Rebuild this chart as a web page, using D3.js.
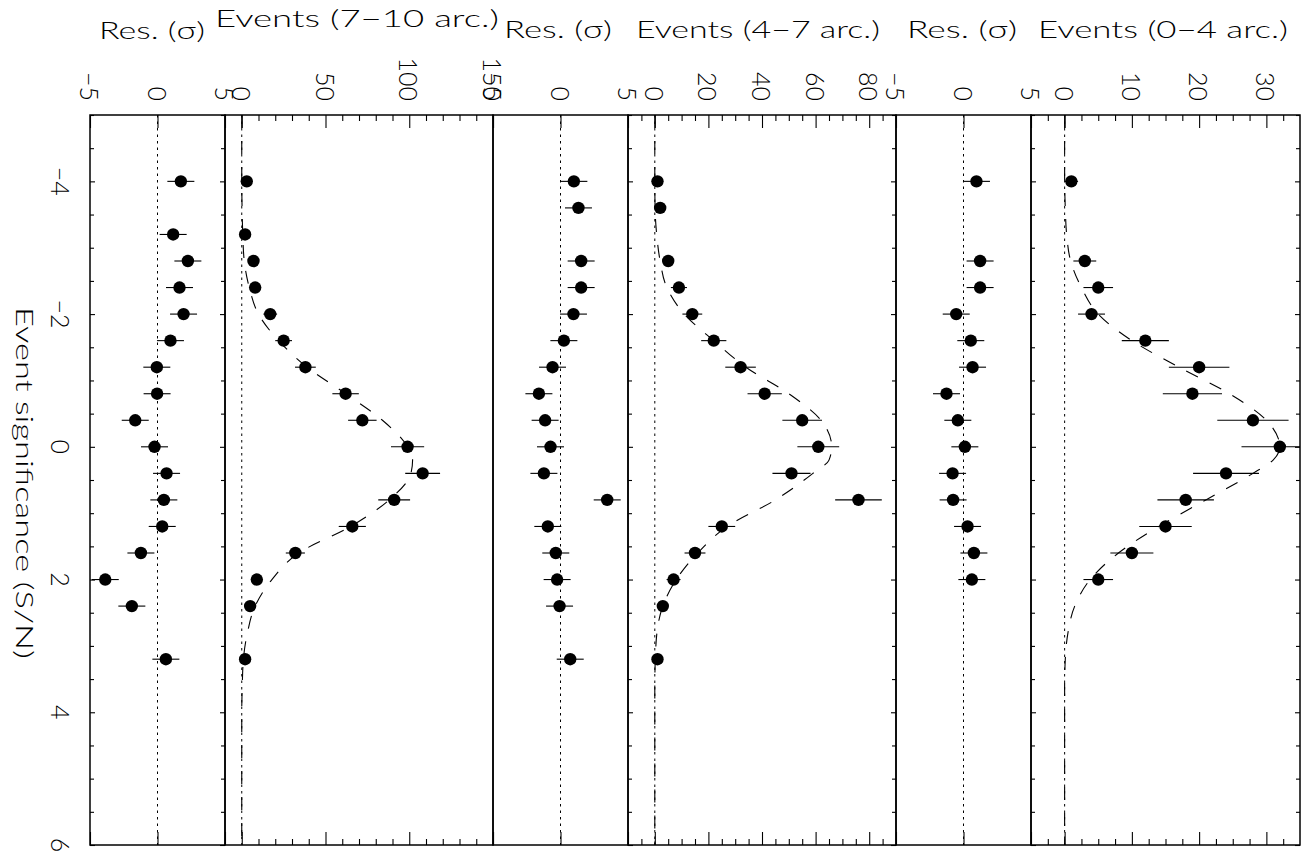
<!DOCTYPE html>
<html><head><meta charset="utf-8">
<script src="https://cdn.jsdelivr.net/npm/d3@7"></script>
<style>
body{margin:0;background:#fff}
text{font-family:Lato,"DejaVu Sans",sans-serif;font-weight:300;fill:#000}
</style>
</head><body>
<svg id="c" width="1308" height="856"></svg>
<script>
// ---------- data ----------
const sigTickValues = [-4, -2, 0, 2, 4, 6];
const sigTickLabels = ["\u22124", "\u22122", "0", "2", "4", "6"];
const sigMinorTicks = [-5, -4.5, -3.5, -3, -2.5, -1.5, -1, -0.5, 0.5, 1, 1.5, 2.5, 3, 3.5, 4.5, 5, 5.5];

const resTickValues = [-5, 0, 5];
const resTickLabels = ["\u22125", "0", "5"];

const ev7TickValues = [0, 50, 100, 150];
const ev7TickLabels = ["0", "50", "100", "150"];
const ev7MinorTicks = [10, 20, 30, 40, 60, 70, 80, 90, 110, 120, 130, 140];

const ev4TickValues = [0, 20, 40, 60, 80];
const ev4TickLabels = ["0", "20", "40", "60", "80"];
const ev4MinorTicks = [-5, 5, 10, 15, 25, 30, 35, 45, 50, 55, 65, 70, 75, 85];

const ev0TickValues = [0, 10, 20, 30];
const ev0TickLabels = ["0", "10", "20", "30"];
const ev0MinorTicks = [-2.5, 2.5, 5, 7.5, 12.5, 15, 17.5, 22.5, 25, 27.5, 32.5];

// 7-10 arcsec
const sig7 = [-4.0, -3.2, -2.8, -2.4, -2.0, -1.6, -1.2, -0.8, -0.4, 0.0, 0.4, 0.8, 1.2, 1.6, 2.0, 2.4, 3.2];
const events7 = [3, 2, 7, 8, 17, 25, 38, 62, 72, 99, 108, 91, 66, 32, 9, 5, 2];
const evErr7 = [1.7, 1.4, 2.6, 2.8, 4.1, 5.0, 6.2, 7.9, 8.5, 9.9, 10.4, 9.5, 8.1, 5.7, 3.0, 2.2, 1.4];
const res7 = [1.73, 1.16, 2.25, 1.63, 1.93, 0.96, -0.05, -0.03, -1.65, -0.22, 0.67, 0.47, 0.35, -1.23, -3.87, -1.9, 0.62];

// 4-7 arcsec
const sig4 = [-4.0, -3.6, -2.8, -2.4, -2.0, -1.6, -1.2, -0.8, -0.4, 0.0, 0.4, 0.8, 1.2, 1.6, 2.0, 2.4, 3.2];
const events4 = [1, 2, 5, 9, 14, 22, 32, 41, 55, 61, 51, 76, 25, 15, 7, 3, 1];
const evErr4 = [1.0, 1.4, 2.2, 3.0, 3.7, 4.7, 5.7, 6.4, 7.4, 7.8, 7.1, 8.7, 5.0, 3.9, 2.6, 1.7, 1.0];
const res4 = [0.99, 1.33, 1.53, 1.53, 0.96, 0.25, -0.59, -1.6, -1.14, -0.74, -1.23, 3.46, -0.94, -0.35, -0.25, -0.07, 0.72];

// 0-4 arcsec
const sig0 = [-4.0, -2.8, -2.4, -2.0, -1.6, -1.2, -0.8, -0.4, 0.0, 0.4, 0.8, 1.2, 1.6, 2.0];
const events0 = [1, 3, 5, 4, 12, 20, 19, 28, 32, 24, 18, 15, 10, 5];
const evErr0 = [1.0, 1.7, 2.2, 2.0, 3.5, 4.5, 4.4, 5.3, 5.7, 4.9, 4.2, 3.9, 3.2, 2.2];
const res0 = [0.96, 1.23, 1.23, -0.54, 0.54, 0.67, -1.26, -0.42, 0.1, -0.81, -0.77, 0.3, 0.77, 0.62];

// model curves
const modelSig = [-5, -4.4, -4, -3.6, -3.2, -2.8, -2.4, -2.0, -1.6, -1.2, -0.8, -0.4, 0, 0.2, 0.4, 0.8, 1.2, 1.6, 2.0, 2.4, 2.8, 3.2, 3.6, 4, 6];
const model7 = [0, 0, 0, 0.2, 0.6, 1.5, 4.5, 10, 22, 39, 62, 84, 99, 102, 101, 88, 65, 34, 18, 8, 3.4, 1, 0.3, 0, 0];
const model4 = [0, 0, 0, 0.1, 0.7, 2, 4.5, 11, 22, 34, 50, 62, 66, 65, 59, 45, 27, 16, 8, 3, 0.8, 0.2, 0, 0, 0];
const model0 = [0, 0, 0, 0.1, 0.3, 0.9, 2.5, 5, 10, 17, 24.5, 30, 32, 31, 28, 21, 14, 8, 3.8, 1.5, 0.5, 0.1, 0, 0, 0];

const titles = ["Res. (\u03c3)", "Events (7\u221210 arc.)", "Res. (\u03c3)", "Events (4\u22127 arc.)", "Res. (\u03c3)", "Events (0\u22124 arc.)"];
const xAxisTitle = "Event significance (S/N)";

// ---------- layout ----------
const TOP = 115, BOT = 845;
const svg = d3.select('#c');
const y = d3.scaleLinear().domain([-5, 6]).range([TOP, BOT]);

const panels = [
  {x0: 90,   x1: 225,  domain: [-5, 5],   ticks: resTickValues, labels: resTickLabels, minors: [], sig: sig7, vals: res7, errs: sig7.map(() => 1), side: true,  title: titles[0], tx: 152, ty: 39, tl: 106},
  {x0: 225,  x1: 493,  domain: [-10, 150], ticks: ev7TickValues, labels: ev7TickLabels, minors: ev7MinorTicks, sig: sig7, vals: events7, errs: evErr7, model: model7, side: false, title: titles[1], tx: 357, ty: 27, tl: 284},
  {x0: 493,  x1: 628,  domain: [-5, 5],   ticks: resTickValues, labels: resTickLabels, minors: [], sig: sig4, vals: res4, errs: sig4.map(() => 1), side: false, title: titles[2], tx: 558, ty: 38, tl: 108},
  {x0: 628,  x1: 896,  domain: [-10, 90], ticks: ev4TickValues, labels: ev4TickLabels, minors: ev4MinorTicks, sig: sig4, vals: events4, errs: evErr4, model: model4, side: true, title: titles[3], tx: 758, ty: 38, tl: 244},
  {x0: 896,  x1: 1031, domain: [-5, 5],   ticks: resTickValues, labels: resTickLabels, minors: [], sig: sig0, vals: res0, errs: sig0.map(() => 1), side: false, title: titles[4], tx: 962, ty: 38, tl: 110},
  {x0: 1031, x1: 1300, domain: [-5, 35],  ticks: ev0TickValues, labels: ev0TickLabels, minors: ev0MinorTicks, sig: sig0, vals: events0, errs: evErr0, model: model0, side: true, title: titles[5], tx: 1163, ty: 38, tl: 250}
];

const defs = svg.append('defs');

panels.forEach((p, i) => {
  const x = d3.scaleLinear().domain(p.domain).range([p.x0, p.x1]);
  const g = svg.append('g');
  defs.append('clipPath').attr('id', 'clip' + i)
    .append('rect').attr('x', p.x0).attr('y', TOP).attr('width', p.x1 - p.x0).attr('height', BOT - TOP);
  const inner = g.append('g').attr('clip-path', `url(#clip${i})`);

  // zero reference (dotted)
  inner.append('line')
    .attr('x1', x(0)).attr('x2', x(0)).attr('y1', TOP).attr('y2', BOT)
    .attr('stroke', '#000').attr('stroke-width', 1).attr('stroke-dasharray', '2.5,4');

  // model curve (dashed)
  if (p.model) {
    const line = d3.line().x(d => x(d[1])).y(d => y(d[0])).curve(d3.curveMonotoneY);
    inner.append('path')
      .datum(modelSig.map((s, k) => [s, p.model[k]]))
      .attr('d', line).attr('fill', 'none').attr('stroke', '#000')
      .attr('stroke-width', 1.1).attr('stroke-dasharray', '13,13');
  }

  // error bars
  inner.selectAll('line.err').data(p.sig).enter().append('line')
    .attr('class', 'err')
    .attr('x1', (s, k) => x(p.vals[k] - p.errs[k]))
    .attr('x2', (s, k) => x(p.vals[k] + p.errs[k]))
    .attr('y1', s => y(s)).attr('y2', s => y(s))
    .attr('stroke', '#000').attr('stroke-width', 1.1);

  // points
  inner.selectAll('circle').data(p.sig).enter().append('circle')
    .attr('cx', (s, k) => x(p.vals[k])).attr('cy', s => y(s)).attr('r', 6.2)
    .attr('fill', '#000');

  // value-axis ticks top & bottom
  const mkAxis = (axisFn, vals, size, yPos) => {
    const a = g.append('g').attr('transform', `translate(0,${yPos})`)
      .call(axisFn(x).tickValues(vals).tickSize(size).tickSizeOuter(0).tickFormat(''));
    a.select('.domain').remove();
    a.selectAll('line').attr('stroke', '#000').attr('stroke-width', 1.1);
  };
  mkAxis(d3.axisTop, p.ticks, -13, TOP);
  mkAxis(d3.axisBottom, p.ticks, -13, BOT);
  if (p.minors.length) {
    mkAxis(d3.axisTop, p.minors, -6, TOP);
    mkAxis(d3.axisBottom, p.minors, -6, BOT);
  }

  // significance ticks on panel sides
  if (p.side) {
    const mkSide = (axisFn, vals, size, xPos) => {
      const a = g.append('g').attr('transform', `translate(${xPos},0)`)
        .call(axisFn(y).tickValues(vals).tickSize(size).tickSizeOuter(0).tickFormat(''));
      a.select('.domain').remove();
      a.selectAll('line').attr('stroke', '#000').attr('stroke-width', 1.1);
    };
    mkSide(d3.axisLeft, sigTickValues, -5, p.x0);
    mkSide(d3.axisLeft, sigMinorTicks, -4, p.x0);
    mkSide(d3.axisRight, sigTickValues, -5, p.x1);
    mkSide(d3.axisRight, sigMinorTicks, -4, p.x1);
  }

  // frame
  g.append('rect').attr('x', p.x0).attr('y', TOP).attr('width', p.x1 - p.x0).attr('height', BOT - TOP)
    .attr('fill', 'none').attr('stroke', '#000').attr('stroke-width', 1.5);

  // tick labels (rotated)
  g.selectAll('text.tl').data(p.ticks).enter().append('text')
    .attr('class', 'tl')
    .attr('x', d => x(d)).attr('y', 101)
    .attr('transform', d => `rotate(90,${x(d)},101)`)
    .attr('text-anchor', 'end').attr('dominant-baseline', 'central')
    .attr('font-size', 25)
    .text((d, k) => p.labels[k]);

  // title
  g.append('text').attr('x', p.tx).attr('y', p.ty)
    .attr('text-anchor', 'middle').attr('font-size', 24)
    .attr('textLength', p.tl).attr('lengthAdjust', 'spacingAndGlyphs')
    .text(p.title);
});

// significance tick labels
svg.selectAll('text.sl').data(sigTickValues).enter().append('text')
  .attr('class', 'sl')
  .attr('x', 61).attr('y', d => y(d))
  .attr('transform', d => `rotate(90,61,${y(d)})`)
  .attr('text-anchor', 'middle').attr('dominant-baseline', 'central')
  .attr('font-size', 25)
  .text((d, k) => sigTickLabels[k]);

// x-axis title
svg.append('text').attr('x', 25).attr('y', 483)
  .attr('transform', 'rotate(90,25,483)')
  .attr('text-anchor', 'middle').attr('dominant-baseline', 'central')
  .attr('font-size', 24).attr('textLength', 352).attr('lengthAdjust', 'spacingAndGlyphs')
  .text(xAxisTitle);
</script>
</body></html>
